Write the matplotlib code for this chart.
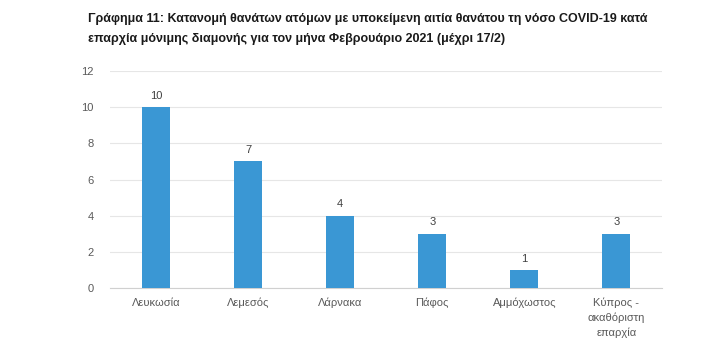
import matplotlib
matplotlib.use("Agg")
import matplotlib.pyplot as plt

# Data
districts = ["Λευκωσία", "Λεμεσός", "Λάρνακα", "Πάφος", "Αμμόχωστος",
             "Κύπρος -\nακαθόριστη\nεπαρχία"]
deaths = [10, 7, 4, 3, 1, 3]

plt.rcParams['font.family'] = ['Liberation Sans', 'DejaVu Sans']

fig = plt.figure(figsize=(7.16, 3.52), dpi=100)
ax = fig.add_axes([0.154, 0.182, 0.771, 0.616])

x = range(len(districts))
ax.bar(x, deaths, width=0.3, color="#3A97D4", zorder=3)

# value labels above bars
for xi, v in zip(x, deaths):
    ax.text(xi, v + 0.35, str(v), ha="center", va="bottom", fontsize=8, color="#404040")

ax.set_xlim(-0.5, len(districts) - 0.5)
ax.set_ylim(0, 12)
ax.set_yticks(range(0, 13, 2))
ax.set_xticks(list(x))
ax.set_xticklabels(districts, fontsize=8, color="#595959", linespacing=1.5)
ax.tick_params(axis="y", labelsize=8, labelcolor="#595959", length=0, pad=12)
ax.tick_params(axis="x", length=0, pad=7)

ax.grid(axis="y", color="#E6E6E6", linewidth=0.8, zorder=0)
for side in ["top", "right", "left"]:
    ax.spines[side].set_visible(False)
ax.spines["bottom"].set_color("#D0D0D0")

fig.text(0.123, 0.945, "Γράφημα 11: Κατανομή θανάτων ατόμων με υποκείμενη αιτία θανάτου τη νόσο COVID-19 κατά",
         fontsize=9.0, fontweight="bold", color="#1a1a1a", va="center")
fig.text(0.123, 0.888, "επαρχία μόνιμης διαμονής για τον μήνα Φεβρουάριο 2021 (μέχρι 17/2)",
         fontsize=9.0, fontweight="bold", color="#1a1a1a", va="center")

fig.savefig("out.png", dpi=100)
